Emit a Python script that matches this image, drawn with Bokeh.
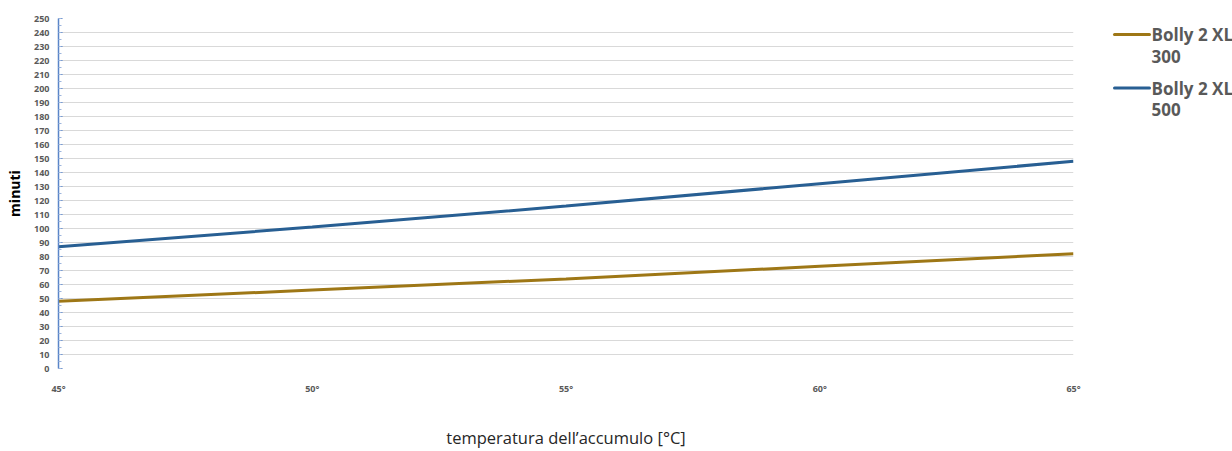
from bokeh.plotting import figure
from bokeh.layouts import row
from bokeh.models import FixedTicker, Range1d
from bokeh.core.properties import value
from bokeh.embed import file_html
from bokeh.resources import INLINE

# accumulation temperature (°C) and heat-up time (minutes)
temperature = [45, 50, 55, 60, 65]
minutes_300 = [48, 56, 64, 73, 82]
minutes_500 = [87, 101, 116, 132, 148]
x_ticks = [45, 50, 55, 60, 65]
x_tick_labels = ["45°", "50°", "55°", "60°", "65°"]
y_ticks = list(range(0, 251, 10))
y_minor_ticks = list(range(0, 251, 5))
series_names = ["Bolly 2 XL\n300", "Bolly 2 XL\n500"]
series_colors = ["#9e7716", "#285f93"]

TICK_FONT = "Open Sans"
FRAME_TOP, FRAME_BOTTOM = 18, 370

p = figure(width=1093, height=451, output_backend="svg", toolbar_location=None,
           x_range=Range1d(45, 65), y_range=Range1d(0, 250))
p.min_border_left = 58
p.min_border_right = 20
p.min_border_top = FRAME_TOP
p.min_border_bottom = 451 - FRAME_BOTTOM
p.outline_line_color = None

p.line(temperature, minutes_300, line_color=series_colors[0], line_width=3)
p.line(temperature, minutes_500, line_color=series_colors[1], line_width=3)

# y axis
ya = p.yaxis[0]
ya.ticker = FixedTicker(ticks=y_ticks, minor_ticks=y_minor_ticks)
ya.axis_line_color = "#5a85c8"
ya.axis_line_width = 1.5
ya.major_tick_line_color = "#5a85c8"
ya.minor_tick_line_color = "#9db5dc"
ya.major_tick_in = 4
ya.major_tick_out = 0
ya.minor_tick_in = 3
ya.minor_tick_out = 0
ya.major_label_text_font = TICK_FONT
ya.major_label_text_font_style = "bold"
ya.major_label_text_font_size = "9px"
ya.major_label_text_color = "#595959"
ya.major_label_standoff = 9
ya.axis_label = "minuti"
ya.axis_label_text_font = "Open Sans"
ya.axis_label_text_font_style = "bold"
ya.axis_label_text_font_size = "14px"
ya.axis_label_text_color = "#000000"
ya.axis_label_standoff = 7

# x axis
xa = p.xaxis[0]
xa.ticker = FixedTicker(ticks=x_ticks)
xa.major_label_overrides = {t: s for t, s in zip(x_ticks, x_tick_labels)}
xa.axis_line_color = None
xa.major_tick_line_color = None
xa.minor_tick_line_color = None
xa.major_label_text_font = TICK_FONT
xa.major_label_text_font_style = "bold"
xa.major_label_text_font_size = "9px"
xa.major_label_text_color = "#595959"
xa.major_label_standoff = 7
xa.axis_label = "temperatura dell\u2019accumulo [°C]"
xa.axis_label_text_font = "Open Sans"
xa.axis_label_text_font_style = "normal"
xa.axis_label_text_font_size = "16.5px"
xa.axis_label_text_color = "#262626"
xa.axis_label_standoff = 28

p.xgrid.grid_line_color = None
p.ygrid.grid_line_color = "#d9d9d9"
p.ygrid.grid_line_width = 1

# legend panel to the right of the chart; its frame is aligned with the
# chart's frame, so the y range maps straight onto pixels from the top
q = figure(width=139, height=451, output_backend="svg", toolbar_location=None,
           x_range=Range1d(0, 139), y_range=Range1d(FRAME_BOTTOM, FRAME_TOP))
q.min_border = 0
q.axis.visible = False
q.grid.visible = False
q.outline_line_color = None

key_x0, key_x1, text_x = 21, 56, 58
key_rows = [34, 88]
line_gap = 22
for name, color, key_y in zip(series_names, series_colors, key_rows):
    q.segment(x0=[key_x0], y0=[key_y], x1=[key_x1], y1=[key_y],
              line_color=color, line_width=3, line_cap="round")
    parts = name.split("\n")
    q.text(x=[text_x] * len(parts), y=[key_y + i * line_gap for i in range(len(parts))],
           text=parts, text_font=value("Open Sans"), text_font_style="bold",
           text_font_size="17px", text_color="#595959",
           text_baseline="middle", text_align="left")

layout = row(p, q, spacing=0)
open("out.html", "w").write(file_html(layout, INLINE))
